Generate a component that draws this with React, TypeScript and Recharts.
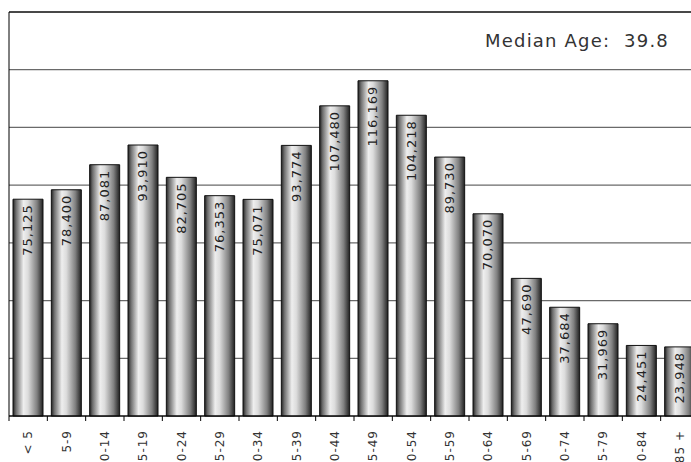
import React from 'react';
import {
  BarChart, Bar, XAxis, YAxis, CartesianGrid, ReferenceLine, LabelList
} from 'recharts';

const ageGroups = [
  '< 5', '5-9', '10-14', '15-19', '20-24', '25-29', '30-34', '35-39', '40-44',
  '45-49', '50-54', '55-59', '60-64', '65-69', '70-74', '75-79', '80-84', '85 +',
];

const population = [
  75125, 78400, 87081, 93910, 82705, 76353, 75071, 93774, 107480,
  116169, 104218, 89730, 70070, 47690, 37684, 31969, 24451, 23948,
];

const yTicks = [0, 20000, 40000, 60000, 80000, 100000, 120000, 140000];

const medianAge = 'Median Age:  39.8';

const data = ageGroups.map((age, i) => ({ age, value: population[i] }));

const CHART_W = 700;
const CHART_H = 520;
const MARGIN = { top: 12, right: 1, left: 8, bottom: 0 };
const AXIS_H = 104;
const PLOT_BOTTOM = CHART_H - AXIS_H;
const BAND = (CHART_W - MARGIN.left - 1 - MARGIN.right) / ageGroups.length;

const FONT = '"DejaVu Sans", Verdana, sans-serif';

function AgeTick(props: any) {
  const { x, payload } = props;
  const lx = x - BAND / 2;
  const ty = PLOT_BOTTOM + 14;
  return (
    <g>
      <line x1={lx} y1={PLOT_BOTTOM} x2={lx} y2={PLOT_BOTTOM + 5} stroke="#000" strokeWidth={1} />
      <text
        x={x}
        y={ty}
        transform={`rotate(-90 ${x} ${ty})`}
        textAnchor="end"
        dominantBaseline="central"
        fontFamily={FONT}
        fontSize={12}
        letterSpacing={1}
        fill="#333"
      >
        {payload.value}
      </text>
    </g>
  );
}

function ValueLabel(props: any) {
  const { x, y, width, value } = props;
  const cx = x + width / 2;
  const ty = y + 5;
  return (
    <text
      x={cx}
      y={ty}
      transform={`rotate(-90 ${cx} ${ty})`}
      textAnchor="end"
      dominantBaseline="central"
      fontFamily={FONT}
      fontSize={13}
      letterSpacing={1}
      fill="#222"
    >
      {Number(value).toLocaleString('en-US')}
    </text>
  );
}

function YEdge(props: any) {
  // draw nothing for tick labels, the axis line is enough
  return <g />;
}

export default function App() {
  return (
    <div style={{ position: 'absolute', left: 0, top: 0, width: 691, height: 462, overflow: 'hidden', background: '#fff' }}>
      <BarChart width={CHART_W} height={CHART_H} data={data} margin={MARGIN} barSize={30}>
        <defs>
          <linearGradient id="barGrad" x1="0" y1="0" x2="1" y2="0">
            <stop offset="0%" stopColor="#222" />
            <stop offset="10%" stopColor="#6e6e6e" />
            <stop offset="35%" stopColor="#eeeeee" />
            <stop offset="50%" stopColor="#dcdcdc" />
            <stop offset="80%" stopColor="#808080" />
            <stop offset="100%" stopColor="#202020" />
          </linearGradient>
        </defs>
        <CartesianGrid vertical={false} horizontalValues={yTicks} stroke="#6a6a6a" strokeWidth={1.3} />
        <XAxis
          dataKey="age"
          interval={0}
          height={AXIS_H}
          tickLine={false}
          axisLine={{ stroke: '#000' }}
          tick={<AgeTick />}
        />
        <YAxis
          width={1}
          domain={[0, 140000]}
          ticks={yTicks}
          tick={<YEdge />}
          tickLine={false}
          axisLine={{ stroke: '#000' }}
        />
        <ReferenceLine y={140000} stroke="#000" />
        <Bar dataKey="value" fill="url(#barGrad)" stroke="#111" strokeWidth={1} isAnimationActive={false}>
          <LabelList dataKey="value" content={<ValueLabel />} />
        </Bar>
      </BarChart>
      <svg width={691} height={462} style={{ position: 'absolute', left: 0, top: 0, pointerEvents: 'none' }}>
        <text
          x={669}
          y={46.5}
          textAnchor="end"
          fontFamily={FONT}
          fontSize={18}
          letterSpacing={1.2}
          fill="#333"
          style={{ whiteSpace: 'pre' }}
        >
          {medianAge}
        </text>
      </svg>
    </div>
  );
}
